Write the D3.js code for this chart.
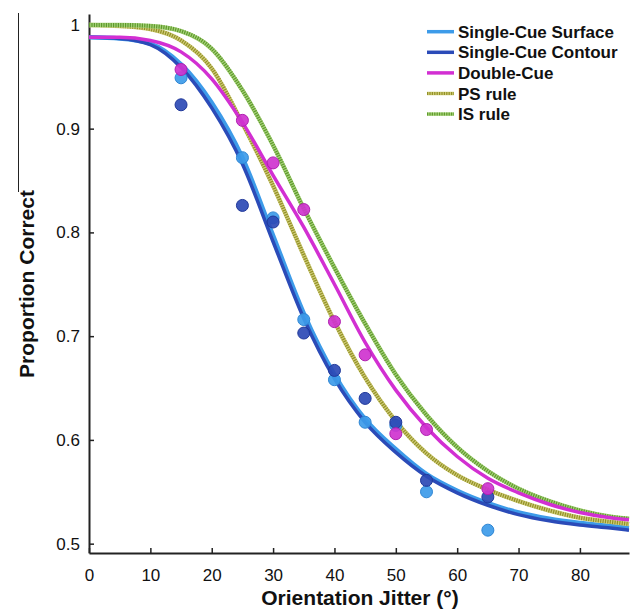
<!DOCTYPE html>
<html>
<head>
<meta charset="utf-8">
<script src="https://cdn.jsdelivr.net/npm/d3@7"></script>
<style>
  html, body { margin: 0; padding: 0; background: #fff; }
  svg { display: block; font-family: "Liberation Sans", Arial, Helvetica, sans-serif; }
</style>
</head>
<body>
<svg id="chart" width="638" height="611"></svg>
<script>
// Orientation jitter levels at which the fitted curves are sampled (degrees)
const curveX = [0, 5, 10, 15, 20, 25, 30, 35, 40, 45, 50, 55, 60, 65, 70, 75, 80, 85, 88];

// Fitted psychometric curves (proportion correct)
const surfaceFit = [0.988, 0.987, 0.982, 0.962, 0.925, 0.872, 0.797, 0.722, 0.663, 0.620, 0.591, 0.567, 0.551, 0.539, 0.530, 0.524, 0.520, 0.517, 0.515];
const contourFit = [0.988, 0.987, 0.981, 0.959, 0.920, 0.866, 0.791, 0.717, 0.659, 0.617, 0.588, 0.565, 0.549, 0.537, 0.528, 0.522, 0.518, 0.515, 0.513];
const doubleFit  = [0.988, 0.988, 0.985, 0.974, 0.948, 0.906, 0.855, 0.805, 0.750, 0.694, 0.648, 0.612, 0.584, 0.563, 0.549, 0.538, 0.530, 0.525, 0.523];
const psRule     = [1.000, 0.999, 0.996, 0.985, 0.958, 0.905, 0.845, 0.778, 0.714, 0.660, 0.618, 0.587, 0.566, 0.552, 0.541, 0.532, 0.525, 0.521, 0.519];
const isRule     = [1.000, 1.000, 0.999, 0.994, 0.977, 0.937, 0.884, 0.823, 0.766, 0.712, 0.663, 0.624, 0.593, 0.570, 0.553, 0.541, 0.532, 0.526, 0.524];

// Observed mean proportion correct per jitter level
const jitterLevels = [15, 25, 30, 35, 40, 45, 50, 55, 65];
const surfaceObs = [0.949, 0.872, 0.814, 0.716, 0.658, 0.617, 0.614, 0.550, 0.513];
const contourObs = [0.923, 0.826, 0.810, 0.703, 0.667, 0.640, 0.617, 0.561, 0.545];
const doubleObs  = [0.957, 0.908, 0.867, 0.822, 0.714, 0.682, 0.606, 0.610, 0.553];

// Axis ticks
const xTicks = [0, 10, 20, 30, 40, 50, 60, 70, 80];
const yTicks = [0.5, 0.6, 0.7, 0.8, 0.9, 1];

// Legend entries
const legendLabels = ["Single-Cue Surface", "Single-Cue Contour", "Double-Cue", "PS rule", "IS rule"];

const svg = d3.select("#chart");

const x = d3.scaleLinear().domain([0, 88]).range([89, 629]);
const y = d3.scaleLinear().domain([0.491, 1.0105]).range([553, 14]);

// stray rule at the far left
svg.append("line")
  .attr("x1", 18.5).attr("x2", 18.5).attr("y1", 13).attr("y2", 192)
  .attr("stroke", "#222").attr("stroke-width", 1);

// Axes
const xAxis = d3.axisBottom(x).tickValues(xTicks).tickFormat(d3.format("d")).tickSizeInner(-5).tickSizeOuter(0).tickPadding(16);
const yAxis = d3.axisLeft(y).tickValues(yTicks).tickFormat(d => d === 1 ? "1" : d3.format(".1f")(d)).tickSizeInner(-5).tickSizeOuter(0).tickPadding(9);

const gx = svg.append("g").attr("transform", "translate(0,553)").call(xAxis);
const gy = svg.append("g").attr("transform", "translate(89,0)").call(yAxis);
[gx, gy].forEach(g => {
  g.select(".domain").attr("stroke", "#222").attr("stroke-width", 2);
  g.selectAll(".tick line").attr("stroke", "#222").attr("stroke-width", 1.5);
  g.selectAll(".tick text").attr("fill", "#111").attr("font-size", 17).attr("font-family", "Liberation Sans, Arial, sans-serif");
});

// Axis titles
svg.append("text")
  .attr("x", 360).attr("y", 605)
  .attr("text-anchor", "middle")
  .attr("font-size", 21).attr("font-weight", "bold").attr("fill", "#111")
  .text("Orientation Jitter (°)");

svg.append("text")
  .attr("transform", "translate(34,284) rotate(-90)")
  .attr("text-anchor", "middle")
  .attr("font-size", 21).attr("font-weight", "bold").attr("fill", "#111")
  .text("Proportion Correct");

// Curves
const line = d3.line()
  .x((d, i) => x(curveX[i]))
  .y(d => y(d))
  .curve(d3.curveMonotoneX);

// dotted rule curves: light base with darker dots on top
const series = [
  { vals: surfaceFit, color: "#3d9be9", width: 4.5 },
  { vals: contourFit, color: "#2b4bb8", width: 3.5 },
  { vals: psRule,     color: "#cfcc78", width: 4.5, dots: "#939126" },
  { vals: isRule,     color: "#a6d27a", width: 4.5, dots: "#5f9a2c" },
  { vals: doubleFit,  color: "#d22fd2", width: 3.5 }
];

const plot = svg.append("g");
series.forEach(s => {
  plot.append("path")
    .datum(s.vals)
    .attr("d", line)
    .attr("fill", "none")
    .attr("stroke", s.color)
    .attr("stroke-width", s.width);
  if (s.dots) {
    plot.append("path")
      .datum(s.vals)
      .attr("d", line)
      .attr("fill", "none")
      .attr("stroke", s.dots)
      .attr("stroke-width", s.width - 0.5)
      .attr("stroke-dasharray", "1.2,1.2");
  }
});

// Observed points
const pointSets = [
  { vals: surfaceObs, color: "#3d9be9", edge: "#2f86d4" },
  { vals: contourObs, color: "#2c4ab5", edge: "#20389a" },
  { vals: doubleObs,  color: "#cf33cf", edge: "#b020b0" }
];
pointSets.forEach(p => {
  plot.selectAll(null)
    .data(p.vals)
    .join("circle")
    .attr("cx", (d, i) => x(jitterLevels[i]))
    .attr("cy", d => y(d))
    .attr("r", 6)
    .attr("fill", p.color)
    .attr("stroke", p.edge)
    .attr("stroke-width", 1)
    .attr("fill-opacity", 0.92);
});

// Legend
const legendColors = ["#3d9be9", "#2b4bb8", "#d22fd2", "#cfcc78", "#a6d27a"];
const legendDots = [null, null, null, "#939126", "#5f9a2c"];
const legend = svg.append("g");
legendLabels.forEach((lab, i) => {
  const yy = 31.7 + i * 20.6;
  legend.append("line")
    .attr("x1", 427).attr("x2", 454).attr("y1", yy).attr("y2", yy)
    .attr("stroke", legendColors[i]).attr("stroke-width", 3.5);
  if (legendDots[i]) {
    legend.append("line")
      .attr("x1", 427).attr("x2", 454).attr("y1", yy).attr("y2", yy)
      .attr("stroke", legendDots[i]).attr("stroke-width", 3)
      .attr("stroke-dasharray", "1.2,1.2");
  }
  legend.append("text")
    .attr("x", 458).attr("y", yy + 6)
    .attr("font-size", 17).attr("font-weight", "bold").attr("fill", "#111")
    .text(lab);
});
</script>
</body>
</html>
